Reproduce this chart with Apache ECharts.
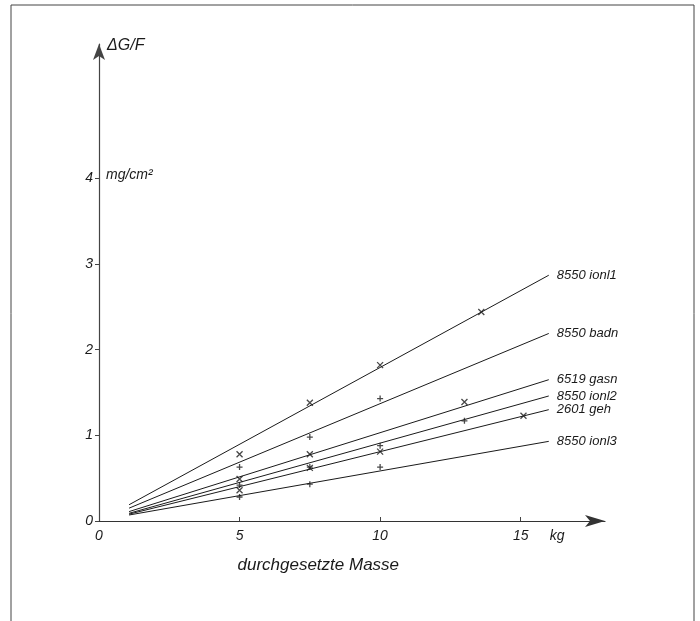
<!DOCTYPE html>
<html>
<head>
<meta charset="utf-8">
<script src="https://cdn.jsdelivr.net/npm/echarts@6/dist/echarts.min.js"></script>
<style>
  html, body { margin: 0; background: #fff; }
  #chart { width: 700px; height: 621px; }
</style>
</head>
<body>
<div id="chart"></div>
<script>
// fitted lines: start / end of each straight line
const seriesNames = ['8550 ionl1', '8550 badn', '6519 gasn', '8550 ionl2', '2601 geh', '8550 ionl3'];
const lineX = [1.07, 16.0];
const lineStartY = [0.19, 0.15, 0.11, 0.09, 0.08, 0.07];
const lineEndY = [2.87, 2.19, 1.65, 1.46, 1.30, 0.93];
const markerKind = ['x', '+', 'x', '+', 'x', '+'];

// measured points
const ptsIonl1 = [[5, 0.78], [7.5, 1.38], [10, 1.82], [13.6, 2.44]];
const ptsBadn = [[5, 0.63], [7.5, 0.98], [10, 1.43]];
const ptsGasn = [[5, 0.49], [7.5, 0.78], [13, 1.39]];
const ptsIonl2 = [[5, 0.42], [7.5, 0.63], [10, 0.88], [13, 1.17]];
const ptsGeh = [[5, 0.36], [7.5, 0.62], [10, 0.81], [15.1, 1.23]];
const ptsIonl3 = [[5, 0.28], [7.5, 0.43], [10, 0.63]];
const allPoints = [ptsIonl1, ptsBadn, ptsGasn, ptsIonl2, ptsGeh, ptsIonl3];

const xTicks = [0, 5, 10, 15];
const xUnitPos = 16.3;
const yTicks = [0, 1, 2, 3, 4];

const FONT = 'Liberation Sans';
const INK = '#1a1a1a';

const symbolPath = {
  'x': 'path://M0,0L10,10M10,0L0,10',
  '+': 'path://M5,0L5,10M0,5L10,5'
};

let chart = echarts.init(document.getElementById('chart'));

let series = [];
seriesNames.forEach((name, i) => {
  series.push({
    name: name,
    type: 'line',
    data: [[lineX[0], lineStartY[i]], [lineX[1], lineEndY[i]]],
    symbol: 'none',
    silent: true,
    lineStyle: { color: INK, width: 1 },
    endLabel: {
      show: true,
      formatter: name,
      distance: 8,
      color: INK,
      fontFamily: FONT,
      fontStyle: 'italic',
      fontSize: 13
    }
  });
  series.push({
    name: name + ' pts',
    type: 'scatter',
    data: allPoints[i],
    symbol: symbolPath[markerKind[i]],
    symbolSize: 6,
    itemStyle: { color: 'transparent', borderColor: INK, borderWidth: 1.3 }
  });
});

var option = {
  animation: false,
  backgroundColor: '#fff',
  grid: { left: 99, right: 95, top: 44, bottom: 100 },
  xAxis: {
    type: 'value',
    min: 0,
    max: 18,
    interval: 5,
    splitLine: { show: false },
    axisLine: {
      lineStyle: { color: '#333', width: 1.2 },
      symbol: ['none', 'arrow'],
      symbolSize: [9, 20]
    },
    axisTick: { show: true, customValues: xTicks, length: 4, inside: true, lineStyle: { color: '#444' } },
    axisLabel: {
      customValues: xTicks.concat([xUnitPos]),
      formatter: v => (v === xUnitPos ? 'kg' : String(v)),
      color: INK,
      fontFamily: FONT,
      fontStyle: 'italic',
      fontSize: 14,
      margin: 8
    }
  },
  yAxis: {
    type: 'value',
    min: 0,
    max: 5.57,
    interval: 1,
    name: 'ΔG/F',
    nameLocation: 'end',
    nameGap: -10,
    nameTextStyle: {
      align: 'left',
      padding: [0, 0, 0, 8],
      color: INK,
      fontFamily: FONT,
      fontStyle: 'italic',
      fontSize: 16
    },
    splitLine: { show: false },
    axisLine: {
      lineStyle: { color: '#444', width: 1.2 },
      symbol: ['none', 'arrow'],
      symbolSize: [9, 16]
    },
    axisTick: { show: true, customValues: yTicks, length: 4, lineStyle: { color: '#444' } },
    axisLabel: {
      customValues: yTicks,
      color: INK,
      fontFamily: FONT,
      fontStyle: 'italic',
      fontSize: 14,
      margin: 6
    }
  },
  series: series
};

chart.setOption(option);

// unit text next to the 4 tick, axis title, frame
let p4 = chart.convertToPixel({ gridIndex: 0 }, [0, 4]);
let pTitle = chart.convertToPixel({ gridIndex: 0 }, [7.8, 0]);
chart.setOption({
  graphic: [
    {
      type: 'text',
      left: p4[0] + 7,
      top: p4[1] - 10,
      style: { text: 'mg/cm²', fill: INK, font: 'italic 14px "' + FONT + '"' }
    },
    {
      type: 'text',
      x: pTitle[0],
      y: pTitle[1] + 44,
      style: {
        text: 'durchgesetzte Masse',
        fill: INK,
        font: 'italic 17px "' + FONT + '"',
        align: 'center',
        verticalAlign: 'middle'
      }
    },
    {
      type: 'rect',
      shape: { x: 11, y: 5, width: 683, height: 630 },
      style: { fill: 'none', stroke: '#444', lineWidth: 1 },
      silent: true
    }
  ]
});

window.addEventListener('resize', () => {
  chart.resize();
});
</script>
</body>
</html>
